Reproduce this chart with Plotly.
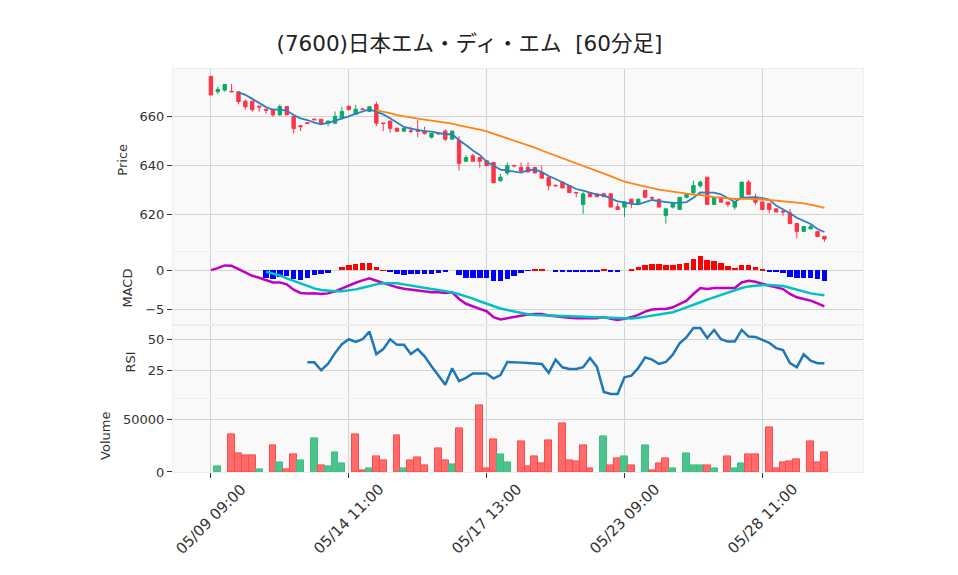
import pandas as pd
import plotly.graph_objects as go
from plotly.subplots import make_subplots

# ---- data ----
days = ["05/09", "05/10", "05/13", "05/14", "05/15", "05/16", "05/17", "05/20",
        "05/21", "05/22", "05/23", "05/24", "05/27", "05/28", "05/29"]
hours = ["09:00", "10:00", "11:00", "12:00", "13:00", "14:00"]
labels = [f"{d} {h}" for d in days for h in hours]

open_ = [676.3, 670.0, 670.7, 670.2, 670.0, 666.2, 666.2, 664.2, 662.9, 662.9,
         660.6, 664.0, 660.0, 656.2, 657.4, 658.9, 658.8, 657.2, 657.2, 659.1,
         664.0, 660.8, 663.0, 662.0, 664.8, 657.3, 658.1, 655.2, 653.9, 654.1,
         654.1, 654.0, 651.5, 653.1, 654.0, 650.7, 650.2, 641.7, 643.9, 643.2,
         641.9, 641.2, 633.7, 636.9, 640.0, 639.2, 639.2, 639.2, 637.1, 635.2,
         631.9, 633.2, 631.8, 629.0, 624.1, 628.9, 628.4, 628.4, 628.4, 623.1,
         623.0, 626.2, 624.5, 629.8, 626.9, 626.2, 619.6, 623.0, 622.0, 627.0,
         628.8, 631.7, 635.2, 624.1, 627.0, 625.1, 623.0, 627.0, 633.2, 627.0,
         625.1, 624.5, 622.3, 621.3, 620.7, 616.3, 613.1, 614.1, 613.1, 611.1]
high = [676.5, 672.1, 673.2, 673.2, 670.0, 666.9, 666.2, 664.2, 662.9, 662.9,
        664.9, 664.0, 660.0, 656.2, 657.6, 659.0, 658.8, 658.1, 662.0, 663.9,
        664.7, 664.7, 663.5, 663.9, 666.0, 657.3, 658.1, 655.2, 655.2, 655.9,
        658.4, 655.8, 653.0, 653.5, 654.7, 654.0, 652.0, 644.2, 644.8, 643.2,
        641.9, 641.2, 636.5, 641.2, 640.0, 641.2, 641.2, 639.2, 639.9, 635.2,
        632.2, 633.2, 631.8, 629.0, 629.0, 628.9, 628.4, 628.9, 628.4, 624.5,
        625.5, 626.2, 626.5, 629.8, 627.3, 626.2, 622.3, 624.5, 627.0, 628.4,
        633.8, 633.8, 635.2, 627.0, 627.0, 625.1, 625.1, 633.2, 634.0, 628.4,
        625.1, 624.5, 622.3, 622.3, 622.3, 616.3, 615.1, 616.3, 613.1, 611.1]
low = [668.7, 669.0, 670.0, 670.0, 664.9, 662.7, 661.9, 661.9, 661.0, 659.8,
       660.2, 660.6, 653.0, 654.0, 657.0, 658.5, 656.5, 655.9, 656.8, 658.8,
       662.5, 660.5, 662.6, 661.8, 656.0, 654.0, 653.3, 653.9, 653.9, 653.2,
       651.5, 652.5, 651.0, 652.5, 649.8, 650.7, 637.9, 641.5, 641.7, 639.1,
       639.9, 632.9, 633.5, 635.9, 639.4, 637.0, 637.3, 636.9, 634.8, 629.8,
       631.5, 630.8, 628.9, 627.0, 620.3, 627.2, 627.2, 627.2, 623.0, 622.0,
       619.0, 622.5, 624.0, 627.0, 626.2, 623.0, 616.3, 622.4, 622.0, 626.5,
       628.5, 630.9, 624.1, 624.1, 625.0, 623.0, 622.0, 627.0, 628.1, 624.0,
       622.0, 620.5, 621.0, 619.5, 616.3, 610.3, 613.1, 614.1, 611.0, 608.8]
close = [668.7, 671.0, 673.0, 670.0, 666.0, 663.9, 662.7, 663.8, 662.5, 660.6,
         664.0, 660.6, 655.0, 655.8, 657.1, 658.6, 657.2, 658.1, 660.0, 662.0,
         662.7, 662.9, 662.8, 663.9, 657.2, 657.1, 655.1, 653.9, 655.2, 653.9,
         653.9, 653.0, 653.0, 652.9, 650.7, 654.0, 640.8, 643.2, 641.7, 641.7,
         639.9, 632.9, 635.2, 639.9, 639.8, 637.7, 637.3, 636.9, 634.8, 631.7,
         631.7, 630.8, 628.9, 628.8, 628.4, 627.2, 627.2, 627.2, 623.0, 622.0,
         625.1, 624.5, 626.2, 627.0, 626.7, 623.0, 622.3, 624.5, 627.0, 628.4,
         631.8, 633.2, 624.1, 627.0, 625.0, 624.1, 625.1, 633.2, 628.1, 625.0,
         622.0, 622.0, 621.0, 621.0, 616.3, 613.1, 615.1, 615.0, 611.0, 610.0]
volume = [0, 5000, 0, 36200, 18200, 16000, 16000, 2200, 0, 25800,
          8800, 2800, 17300, 10700, 0, 32400, 6600, 5000, 19200, 7900,
          0, 36200, 1300, 3200, 14500, 10700, 0, 35200, 3200, 10700,
          13500, 6000, 0, 23000, 10700, 6900, 41800, 0, 0, 63500,
          3800, 31500, 16400, 8800, 0, 29600, 5700, 14500, 7900, 30500,
          0, 46200, 10700, 9800, 25800, 3800, 0, 34300, 6000, 13200,
          14500, 6600, 0, 25800, 1300, 7900, 13200, 3200, 0, 18200,
          6000, 6600, 6600, 3200, 0, 15100, 3200, 7900, 16400, 17300,
          0, 42500, 3800, 8800, 9800, 12300, 0, 29600, 8800, 19200]
vol_up = [0, 1, 0, 0, 0, 0, 0, 1, 0, 0,
          1, 0, 0, 1, 0, 1, 0, 1, 1, 1,
          0, 0, 0, 1, 0, 0, 0, 0, 1, 0,
          0, 0, 0, 0, 0, 1, 0, 0, 0, 0,
          0, 0, 1, 1, 0, 0, 0, 0, 0, 0,
          0, 0, 0, 0, 0, 0, 0, 1, 0, 0,
          1, 0, 0, 1, 0, 0, 0, 1, 0, 1,
          1, 1, 0, 1, 0, 0, 1, 1, 0, 0,
          0, 0, 0, 0, 0, 0, 0, 0, 0, 0]
macd = [0.00, 0.25, 0.60, 0.55, 0.13, -0.30, -0.72, -0.97, -1.23, -1.57,
        -1.57, -1.82, -2.50, -2.92, -3.00, -2.97, -3.05, -2.97, -2.71, -2.33,
        -1.90, -1.61, -1.31, -1.06, -1.36, -1.65, -1.90, -2.20, -2.37, -2.50,
        -2.63, -2.75, -2.84, -2.84, -2.92, -2.84, -3.69, -4.30, -4.66, -4.96,
        -5.25, -6.00, -6.30, -6.15, -6.00, -5.80, -5.68, -5.60, -5.60, -5.80,
        -5.93, -6.00, -6.10, -6.14, -6.14, -6.14, -6.14, -6.00, -6.23, -6.36,
        -6.23, -6.00, -5.72, -5.30, -5.04, -4.96, -4.96, -4.75, -4.32, -3.90,
        -3.05, -2.29, -2.42, -2.29, -2.29, -2.33, -2.29, -1.57, -1.36, -1.48,
        -1.78, -1.99, -2.20, -2.42, -3.05, -3.47, -3.69, -3.90, -4.24, -4.62]
signal = [None] * 8 + [
    -0.20, -0.42, -0.68, -1.06, -1.40, -1.74, -2.08, -2.33, -2.54, -2.67,
    -2.71, -2.71, -2.63, -2.46, -2.25, -2.03, -1.82, -1.69, -1.65, -1.69,
    -1.82, -1.99, -2.16, -2.29, -2.42, -2.54, -2.67, -2.84, -3.09, -3.35,
    -3.64, -3.98, -4.32, -4.65, -4.90, -5.10, -5.30, -5.47, -5.64, -5.72,
    -5.76, -5.80, -5.80, -5.80, -5.85, -5.89, -5.93, -5.97, -6.00, -6.06,
    -6.10, -6.19, -6.23, -6.19, -6.10, -5.97, -5.85, -5.72, -5.60, -5.38,
    -5.08, -4.79, -4.45, -4.11, -3.77, -3.47, -3.18, -2.84, -2.58, -2.29,
    -2.08, -1.95, -1.90, -1.90, -1.95, -2.03, -2.25, -2.50, -2.75, -2.97,
    -3.10, -3.22]
rsi = [None] * 14 + [
    31.8, 31.8, 25.5, 30.8, 39.2, 46.3, 50.3, 48.2, 50.3, 56.4,
    38.4, 42.4, 50.3, 45.8, 45.8, 38.4, 42.4, 36.6, 28.7, 20.8,
    13.9, 27.1, 16.8, 19.4, 22.9, 22.9, 22.9, 18.9, 21.6, 32.1,
    32.1, 31.6, 31.3, 31.1, 30.5, 23.4, 34.0, 27.9, 26.6, 26.6,
    27.9, 35.3, 28.2, 8.1, 6.5, 6.5, 19.9, 21.2, 27.3, 35.8,
    34.0, 30.5, 32.1, 37.9, 47.1, 51.9, 59.3, 59.3, 51.3, 57.7,
    50.3, 48.4, 48.4, 57.7, 52.4, 52.1, 49.8, 47.4, 43.2, 41.6,
    31.3, 27.9, 38.2, 33.2, 31.1, 31.1]
tick_idx = [0, 20, 40, 60, 80]

# ---- derived series ----
c = pd.Series(close)
ma5 = c.rolling(5).mean()
ma25 = c.rolling(25).mean()
hist = [None if s is None else round(m - s, 3) for m, s in zip(macd, signal)]

fig = make_subplots(rows=4, cols=1, shared_xaxes=True, vertical_spacing=0.003,
                    row_heights=[2.5, 1, 1, 1])

fig.add_trace(go.Candlestick(x=labels, open=open_, high=high, low=low, close=close,
                             increasing=dict(line=dict(color="#0AAA63", width=1), fillcolor="#0AAA63"),
                             decreasing=dict(line=dict(color="#FF3344", width=1), fillcolor="#FF3344"),
                             whiskerwidth=0, showlegend=False), row=1, col=1)
fig.add_trace(go.Scatter(x=labels, y=ma5, mode="lines", line=dict(color="#2E7EC1", width=1.8),
                         showlegend=False), row=1, col=1)
fig.add_trace(go.Scatter(x=labels, y=ma25, mode="lines", line=dict(color="#FF8418", width=1.8),
                         showlegend=False), row=1, col=1)

hist_colors = ["#FF0000" if (h is not None and h >= 0) else "#0000FF" for h in hist]
fig.add_trace(go.Bar(x=labels, y=hist, marker=dict(color=hist_colors, line=dict(width=0)),
                     width=0.8, showlegend=False), row=2, col=1)
fig.add_trace(go.Scatter(x=labels, y=macd, mode="lines", line=dict(color="#C000C0", width=2.5),
                         showlegend=False), row=2, col=1)
fig.add_trace(go.Scatter(x=labels, y=signal, mode="lines", line=dict(color="#00C0C0", width=2.5),
                         showlegend=False), row=2, col=1)

fig.add_trace(go.Scatter(x=labels, y=rsi, mode="lines", line=dict(color="#1F77B4", width=2.5),
                         showlegend=False), row=3, col=1)

vol_fill = ["rgba(46,184,122,0.85)" if u else "rgba(255,90,90,0.9)" for u in vol_up]
vol_line = ["#3CBF85" if u else "#FF4B4B" for u in vol_up]
vol_lw = [1 if v > 0 else 0 for v in volume]
fig.add_trace(go.Bar(x=labels, y=volume,
                     marker=dict(color=vol_fill, line=dict(color=vol_line, width=vol_lw)),
                     width=1.0, showlegend=False), row=4, col=1)

fig.update_layout(
    width=958, height=575,
    margin=dict(l=173, r=95, t=69, b=103),
    paper_bgcolor="white", plot_bgcolor="#F9F9F9",
    font=dict(family="DejaVu Sans, Noto Sans CJK JP, sans-serif", size=13, color="#333333"),
    title=dict(text="(7600)日本エム・ディ・エム  [60分足]", x=0.49, xanchor="center",
               y=0.925, yanchor="middle",
               font=dict(size=21.5, color="#222222", family="DejaVu Sans, Noto Sans CJK JP, sans-serif")),
    bargap=0, showlegend=False,
)

common_x = dict(type="category", range=[-5.5, 94.6], showgrid=True, gridcolor="#D3D3D3",
                gridwidth=1, tickvals=[labels[i] for i in tick_idx], showline=True,
                linecolor="#EEEEEE", mirror=True, rangeslider=dict(visible=False),
                zeroline=False, showticklabels=False)
for r in range(1, 5):
    fig.update_xaxes(**common_x, row=r, col=1)
fig.update_xaxes(ticks="outside", ticklen=5, tickcolor="#333333", row=4, col=1)

# rotated date labels centred under their ticks
for i in tick_idx:
    fig.add_annotation(x=labels[i], xref="x4", y=-0.116, yref="paper", text=labels[i],
                       textangle=-45, showarrow=False, xanchor="center", yanchor="middle",
                       font=dict(size=15, color="#333333"))

common_y = dict(showgrid=True, gridcolor="#D3D3D3", gridwidth=1, ticks="outside", ticklen=5,
                tickcolor="#333333", showline=True, linecolor="#EEEEEE", mirror=True,
                zeroline=False, title_font=dict(size=13), title_standoff=9)
fig.update_yaxes(**common_y, range=[605.3, 679.3], tickvals=[620, 640, 660], title_text="Price",
                 row=1, col=1)
fig.update_yaxes(**common_y, range=[-6.93, 2.35], tickvals=[-5, 0], ticktext=["−5", "0"],
                 title_text="MACD", row=2, col=1)
fig.update_yaxes(**common_y, range=[3.2, 61.2], tickvals=[25, 50], title_text="RSI", row=3, col=1)
fig.update_yaxes(**common_y, range=[0, 69340], tickvals=[0, 50000], tickformat="d",
                 title_text="Volume", row=4, col=1)

fig.write_html("out.html")
